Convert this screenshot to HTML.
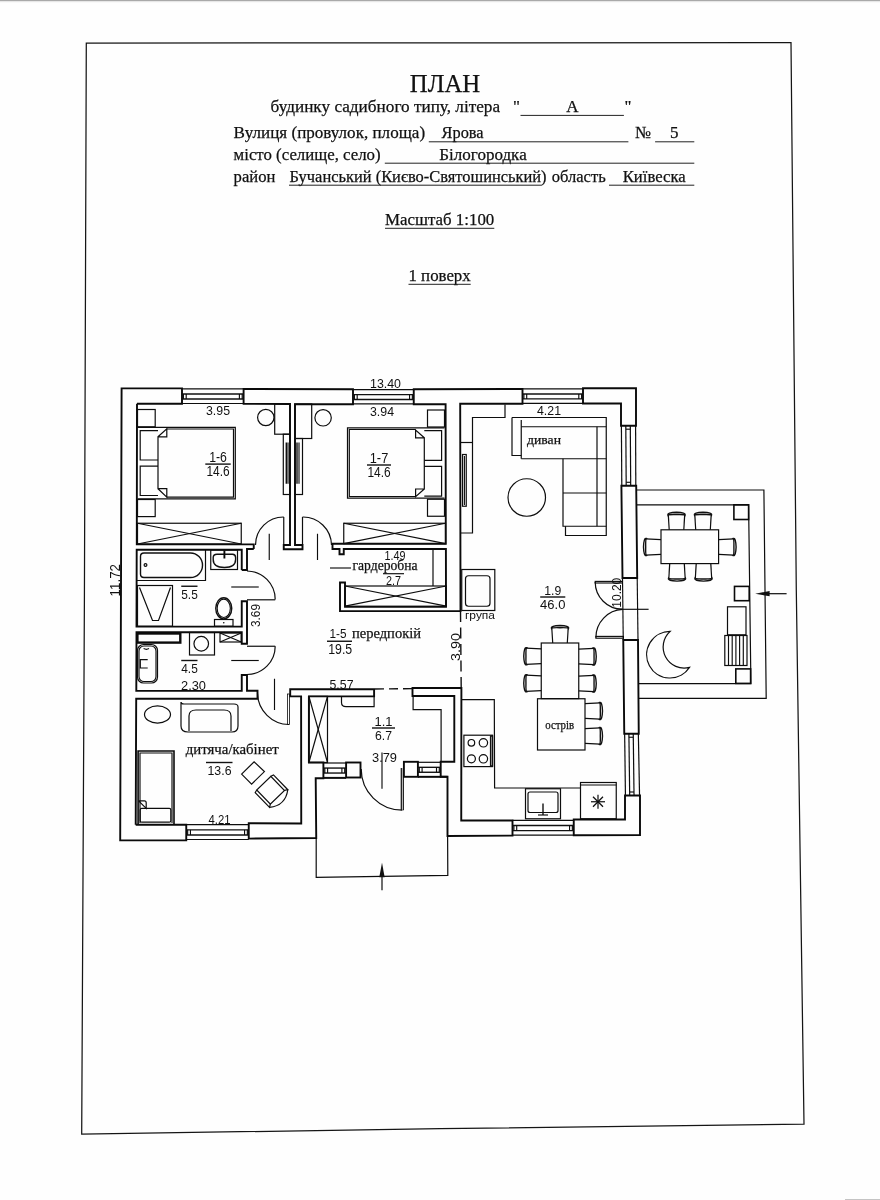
<!DOCTYPE html>
<html lang="uk">
<head>
<meta charset="utf-8">
<title>План будинку садибного типу</title>
<style>
html,body{margin:0;padding:0;background:#fefefe;}
body{width:880px;height:1200px;overflow:hidden;position:relative;font-family:"Liberation Serif",serif;}
svg{position:absolute;left:0;top:0;display:block;will-change:transform;filter:grayscale(1);}
svg path,svg rect,svg circle,svg ellipse{fill:none;stroke:#111;stroke-linejoin:miter;stroke-linecap:butt;}
.w{stroke-width:1.9;stroke:#0a0a0a;}
.m{stroke-width:1.4;}
.p{stroke-width:1.6;stroke:#0a0a0a;}
.t{stroke-width:1.2;stroke:#0d0d0d;}
.h{stroke-width:1.15;stroke:#0d0d0d;}
.u{stroke-width:1;stroke:#222;}
.b{stroke-width:1.9;stroke:#303030;}
.d{stroke-width:1.2;stroke:#0d0d0d;}
.f{stroke-width:1.25;stroke:#151515;}
svg .k{fill:#111;stroke:none;}
svg text{font-family:"Liberation Serif",serif;fill:#111;stroke:#111;stroke-width:0.25;}
svg text.s{font-family:"Liberation Sans",sans-serif;stroke:none;}
</style>
</head>
<body>
<svg width="880" height="1200" viewBox="0 0 880 1200">
<g id="frame">
<rect x="0" y="0" width="880" height="1.2" style="fill:#a9a9a9;stroke:none"/>
<rect x="0" y="1.2" width="880" height="1" style="fill:#e6e6e6;stroke:none"/>
<path class="f" d="M86.3 43.1 L791 42.6 L796.3 590 L804 1124.2 L440 1128.7 L81.7 1134.1 L84.4 600Z"/>
<rect x="845" y="1199" width="35" height="1" style="fill:#c4c4c4;stroke:none"/>
</g>
<g id="header">
<text x="445" y="91.8" font-size="24.7" text-anchor="middle" textLength="70.5" lengthAdjust="spacingAndGlyphs">ПЛАН</text>
<text x="270.6" y="112.1" font-size="17" textLength="229.5" lengthAdjust="spacingAndGlyphs">будинку садибного типу, літера</text>
<text x="513" y="112.1" font-size="17">"</text>
<text x="624.6" y="112.1" font-size="17">"</text>
<text x="566.3" y="112.1" font-size="17">А</text>
<path class="u" d="M520.5 115.4 L623.9 115.4"/>
<text x="233.6" y="138.4" font-size="17" textLength="191.5" lengthAdjust="spacingAndGlyphs">Вулиця (провулок, площа)</text>
<text x="441.6" y="138.4" font-size="17" textLength="42" lengthAdjust="spacingAndGlyphs">Ярова</text>
<path class="u" d="M428.8 141.8 L628.4 141.8"/>
<text x="635.2" y="138.4" font-size="17" textLength="16" lengthAdjust="spacingAndGlyphs">№</text>
<text x="670" y="138.4" font-size="17">5</text>
<path class="u" d="M655.1 141.8 L694.3 141.8"/>
<text x="233.6" y="160" font-size="17" textLength="147" lengthAdjust="spacingAndGlyphs">місто (селище, село)</text>
<text x="439.3" y="160" font-size="17" textLength="87.4" lengthAdjust="spacingAndGlyphs">Білогородка</text>
<path class="u" d="M384.8 163.2 L694.3 163.2"/>
<text x="233.6" y="181.8" font-size="17" textLength="41.8" lengthAdjust="spacingAndGlyphs">район</text>
<text x="289.6" y="181.8" font-size="17" textLength="257" lengthAdjust="spacingAndGlyphs">Бучанський (Києво-Святошинський)</text>
<path class="u" d="M289 185.2 L541.5 185.2"/>
<text x="551.7" y="181.8" font-size="17" textLength="54" lengthAdjust="spacingAndGlyphs">область</text>
<text x="622.7" y="181.8" font-size="17" textLength="63" lengthAdjust="spacingAndGlyphs">Київеска</text>
<path class="u" d="M609 185.2 L694.3 185.2"/>
<text x="385" y="225.2" font-size="17" textLength="109.3" lengthAdjust="spacingAndGlyphs">Масштаб 1:100</text>
<path class="u" d="M385 228.3 L494.3 228.3"/>
<text x="408.5" y="281.1" font-size="17" textLength="62.2" lengthAdjust="spacingAndGlyphs">1 поверх</text>
<path class="u" d="M408.5 284.3 L470.7 284.3"/>
</g>
<g id="walls">
<path class="w" d="M137 403.8 L182 403.8 L182 388.4 L121.6 388.4 L120.2 840.4 L186.25 840.3 L186.25 824.6 L135.7 824.8"/>
<path class="w" d="M253.75 549 L253.75 544.4 L136.8 544.4 L137 403.8"/>
<path class="w" d="M241.75 570 L241.75 549.7 L136.7 549.7 L136.5 626.6 L241.75 626.6 L241.75 601.25 L247 601.25 L247 643.75 L241.75 643.75 L241.75 632.2 L136.5 632.2 L136.3 690.9 L241.75 690.9 L241.75 675 L247 675 L247 690.7 L257.5 690.7 L257.5 698.7 L136.2 698.8 L135.7 824.8"/>
<path class="w" d="M253.75 549 L247 549 L247 570 L241.75 570"/>
<path class="w" d="M243.6 388.9 L353 389.3 L353 404.2 L295 404.2 L295 545 L302.5 545 L302.5 549.25 L283.75 549.25 L283.75 545 L290 545 L290 404 L243.6 403.8Z"/>
<path class="w" d="M413.75 389.3 L522.5 388.9 L522.5 403.8 L460.2 403.8 L460.5 611.1 L340 611.1 L340 582.5 L345 582.5 L345 606.9 L446 606.9 L445.9 549 L343.75 549 L343.75 554.3 L339.5 554.3 L339.5 549 L332.5 549 L332.5 543.8 L445.8 543.8 L445.6 404.2 L413.75 404.2Z"/>
<path class="w" d="M583 388.3 L636 388.3 L636 425.7 L621 425.7 L621 403.5 L583 403.5Z"/>
<path class="w" d="M621.4 485.8 L636.2 485.8 L637.2 578 L622.5 578Z"/>
<path class="w" d="M623.25 640 L638 640 L638.75 733.75 L624.25 733.75Z"/>
<path class="w" d="M625 795.5 L640 795.5 L640 835 L573.75 835.3 L573.75 819.5 L625 819.5Z"/>
<path class="w" d="M412.5 688 L461.4 688 L461.25 820.5 L512.5 820.5 L512.5 835.6 L447.5 836 L447.5 776.8 L440.7 776.8 L440.7 761.8 L454.3 761.8 L454.3 696 L412.5 696Z"/>
<path class="w" d="M290.2 689.3 L374.1 689.3 L374.1 696.4 L308.9 696.4 L308.9 762.5 L323.4 762.5 L323.4 778.2 L315.7 778.2 L316.25 838 L248.75 838.6 L248.75 823.2 L301.25 823.5 L301.1 696.4 L290.2 696.4Z"/>
<rect class="w" x="346.1" y="762.5" width="14.4" height="15"/>
<rect class="w" x="403.9" y="761.8" width="14" height="15"/>
<path class="t" d="M182 388.9 L243.6 388.9"/>
<path class="t" d="M182 403.5 L243.6 403.5"/>
<path class="m" d="M182 394 L243.6 394"/>
<path class="m" d="M182 399.01 L243.6 399.01"/>
<path class="h" d="M183.4 394 L183.4 399.01"/>
<path class="h" d="M186.2 394 L186.2 399.01"/>
<path class="h" d="M242.2 394 L242.2 399.01"/>
<path class="h" d="M239.4 394 L239.4 399.01"/>
<path class="t" d="M353 389.6 L413.75 389.6"/>
<path class="t" d="M353 403.9 L413.75 403.9"/>
<path class="m" d="M353 394.59 L413.75 394.59"/>
<path class="m" d="M353 399.51 L413.75 399.51"/>
<path class="h" d="M354.4 394.59 L354.4 399.51"/>
<path class="h" d="M357.2 394.59 L357.2 399.51"/>
<path class="h" d="M412.35 394.59 L412.35 399.51"/>
<path class="h" d="M409.55 394.59 L409.55 399.51"/>
<path class="t" d="M522.5 388.9 L583 388.9"/>
<path class="t" d="M522.5 403.3 L583 403.3"/>
<path class="m" d="M522.5 393.93 L583 393.93"/>
<path class="m" d="M522.5 398.88 L583 398.88"/>
<path class="h" d="M523.9 393.93 L523.9 398.88"/>
<path class="h" d="M526.7 393.93 L526.7 398.88"/>
<path class="h" d="M581.6 393.93 L581.6 398.88"/>
<path class="h" d="M578.8 393.93 L578.8 398.88"/>
<path class="t" d="M186.25 824.7 L248.75 824.7"/>
<path class="t" d="M186.25 839.5 L248.75 839.5"/>
<path class="m" d="M186.25 829.87 L248.75 829.87"/>
<path class="m" d="M186.25 834.95 L248.75 834.95"/>
<path class="h" d="M187.65 829.87 L187.65 834.95"/>
<path class="h" d="M190.45 829.87 L190.45 834.95"/>
<path class="h" d="M247.35 829.87 L247.35 834.95"/>
<path class="h" d="M244.55 829.87 L244.55 834.95"/>
<path class="t" d="M512.5 820.3 L573.75 820.3"/>
<path class="t" d="M512.5 835.2 L573.75 835.2"/>
<path class="m" d="M512.5 825.5 L573.75 825.5"/>
<path class="m" d="M512.5 830.62 L573.75 830.62"/>
<path class="h" d="M513.9 825.5 L513.9 830.62"/>
<path class="h" d="M516.7 825.5 L516.7 830.62"/>
<path class="h" d="M572.35 825.5 L572.35 830.62"/>
<path class="h" d="M569.55 825.5 L569.55 830.62"/>
<path class="t" d="M323.4 763 L346.1 763"/>
<path class="t" d="M323.4 777.5 L346.1 777.5"/>
<path class="m" d="M323.4 768.06 L346.1 768.06"/>
<path class="m" d="M323.4 773.04 L346.1 773.04"/>
<path class="h" d="M324.8 768.06 L324.8 773.04"/>
<path class="h" d="M327.6 768.06 L327.6 773.04"/>
<path class="h" d="M344.7 768.06 L344.7 773.04"/>
<path class="h" d="M341.9 768.06 L341.9 773.04"/>
<path class="t" d="M417.9 762.3 L440.7 762.3"/>
<path class="t" d="M417.9 776.7 L440.7 776.7"/>
<path class="m" d="M417.9 767.33 L440.7 767.33"/>
<path class="m" d="M417.9 772.27 L440.7 772.27"/>
<path class="h" d="M419.3 767.33 L419.3 772.27"/>
<path class="h" d="M422.1 767.33 L422.1 772.27"/>
<path class="h" d="M439.3 767.33 L439.3 772.27"/>
<path class="h" d="M436.5 767.33 L436.5 772.27"/>
<path class="t" d="M621.4 425.7 L621.8 485.8"/>
<path class="t" d="M635.6 425.7 L635.8 485.8"/>
<path class="t" d="M625.8 425.7 L626.2 485.8"/>
<path class="t" d="M630.3 425.7 L630.7 485.8"/>
<path class="h" d="M625.8 429.2 L630.3 429.2"/>
<path class="h" d="M626.2 482.3 L630.7 482.3"/>
<path class="t" d="M624.65 733.75 L625.45 795.5"/>
<path class="t" d="M638.35 733.75 L639.55 795.5"/>
<path class="t" d="M628.89 733.75 L629.69 795.5"/>
<path class="t" d="M633.24 733.75 L634.04 795.5"/>
<path class="h" d="M628.89 737.25 L633.24 737.25"/>
<path class="h" d="M629.69 792 L634.04 792"/>
<path class="t" d="M316.2 838 L316.2 877.4 L447.8 875.3 L447.6 836"/>
<path class="m" d="M323.4 778.2 L346.1 778.2"/>
<path class="w" d="M417.9 776.8 L447.5 776.8"/>
<path class="t" d="M636.8 490 L763.9 490 L766.2 698.4 L639 698.4"/>
<path class="t" d="M637 504.8 L748.6 504.8 L750.9 683.6 L639 683.6"/>
<rect class="p" x="733.9" y="504.8" width="14.7" height="14.7"/>
<rect class="p" x="734.5" y="586.4" width="14.7" height="14.3"/>
<rect class="p" x="735.8" y="668.9" width="14.8" height="14.5"/>
<path class="m" d="M460.5 611.1 L461.2 688" stroke-dasharray="11 5.5"/>
<path class="m" d="M375 689 L412.5 688.6" stroke-dasharray="9 5"/>
<path class="h" d="M622.5 578 L623.25 640"/>
<path class="h" d="M637.2 578 L638 640"/>
</g>
<g id="rooms_a">
<rect class="t" x="137.5" y="409.5" width="17.7" height="17.3"/>
<rect class="t" x="137.5" y="499.5" width="17.7" height="17.1"/>
<path class="d" d="M137.5 427.3 L235.3 427.3 L235.3 498.9 L137.5 498.9"/>
<path class="d" d="M166.8 429 L233.5 429 L233.5 497.2 L166.8 497.2"/>
<path class="t" d="M158 436.8 L166.8 428.9 L166.8 436.8 L158 436.8 L158 488.7 L166.8 488.7 L166.8 497.1 L158 488.7"/>
<path class="t" d="M158 430.7 L140.2 430.7 L140.2 460 L158 460"/>
<path class="t" d="M158 466.2 L140.2 466.2 L140.2 495.5 L158 495.5"/>
<rect class="t" x="137.5" y="523.25" width="103.75" height="20.75"/>
<path class="t" d="M137.5 523.25 L241.25 544"/>
<path class="t" d="M137.5 544 L241.25 523.25"/>
<circle class="t" cx="265.8" cy="417.5" r="8.2"/>
<rect class="t" x="274.7" y="404" width="15.3" height="30.2"/>
<rect class="t" x="283.3" y="434.2" width="6.7" height="60.3"/>
<path class="m" d="M286.3 442.5 L286.3 483.75"/>
<path class="h" d="M288 442.5 L288 483.75"/>
<path class="t" d="M283.75 517 A28 28 0 0 0 255.5 545"/>
<path class="t" d="M283.75 517 L283.75 545"/>
<path class="h" d="M269.25 533.75 L269.25 560"/>
<rect class="t" x="427.5" y="410" width="17" height="17"/>
<rect class="t" x="427.5" y="499.25" width="17" height="17"/>
<path class="d" d="M444.5 427.8 L347.5 427.8 L347.5 498.2 L444.5 498.2"/>
<path class="d" d="M415.6 429.5 L349.3 429.5 L349.3 496.5 L415.6 496.5"/>
<path class="t" d="M424.3 437.8 L415.6 430 L415.6 437.8 L424.3 437.8 L424.3 489 L415.6 489 L415.6 496.6 L424.3 489"/>
<path class="t" d="M424.3 430.7 L441.6 430.7 L441.6 460.3 L424.3 460.3"/>
<path class="t" d="M424.3 466.3 L441.6 466.3 L441.6 496.1 L424.3 496.1"/>
<rect class="t" x="343.75" y="523.25" width="101.75" height="20.35"/>
<path class="t" d="M343.75 523.25 L445.5 543.6"/>
<path class="t" d="M343.75 543.6 L445.5 523.25"/>
<circle class="t" cx="323.1" cy="417.8" r="8.2"/>
<rect class="t" x="294.8" y="404" width="16.9" height="34.5"/>
<rect class="t" x="294.8" y="438.5" width="7.7" height="56"/>
<path class="m" d="M297 442.5 L297 483.75"/>
<path class="h" d="M299 442.5 L299 483.75"/>
<path class="t" d="M302.5 517 A28.5 28.5 0 0 1 331.5 545"/>
<path class="t" d="M302.5 517 L302.5 545"/>
<path class="h" d="M317.5 533.75 L317.5 560"/>
<path class="t" d="M505 404.5 L505 417.5 L472.5 417.5 L472.5 533 L460.5 533"/>
<path class="t" d="M460.5 442.5 L472.5 442.5"/>
<rect class="t" x="462.5" y="454.5" width="3.75" height="51.75"/>
<path class="h" d="M464.4 456 L464.4 505"/>
<path class="t" d="M512 417.5 L606.25 417.5 L606.25 535.5 L565.5 535.5 L565.5 526.25"/>
<path class="t" d="M512 417.5 L512 455.5 L521.25 455.5"/>
<path class="t" d="M521.25 420 L521.25 458.75"/>
<path class="t" d="M521.25 426.75 L606.25 426.75"/>
<path class="t" d="M521.25 458.75 L606.25 458.75"/>
<path class="t" d="M597 426.75 L597 526.25"/>
<path class="t" d="M563 458.75 L563 526.25 L606.25 526.25"/>
<path class="t" d="M563 493 L606.25 493"/>
<circle class="t" cx="526.75" cy="497.5" r="18.75"/>
</g>
<g id="rooms_b">
<path class="t" d="M205.5 549.8 L205.5 580.5 L137 580.5"/>
<path class="m" d="M144 553 H190.5 A12 12.25 0 0 1 190.5 577.5 H144 Q140.5 577.5 140.5 574 V556.5 Q140.5 553 144 553 Z"/>
<circle class="t" cx="145.5" cy="565" r="1.4"/>
<rect class="t" x="210.75" y="550" width="26.75" height="19.5"/>
<path class="m" d="M217 554.3 H232.5 Q235.6 554.3 235.6 557.5 V559.5 Q235.6 567.5 224.4 567.5 Q213.2 567.5 213.2 559.5 V557.5 Q213.2 554.3 217 554.3 Z"/>
<path class="w" d="M224.4 550.5 L224.4 558.5"/>
<rect class="t" x="137.5" y="585.5" width="35" height="40.75"/>
<path class="t" d="M139.5 587.5 L152.5 620.5 L158.5 620.5 L170.5 587.5"/>
<ellipse class="m" cx="223.75" cy="608.3" rx="8" ry="10.6"/>
<ellipse class="h" cx="223.75" cy="608.3" rx="6.6" ry="9.2"/>
<rect class="t" x="214.5" y="619.5" width="18.5" height="6.75"/>
<circle class="k" cx="223.75" cy="622.8" r="0.8"/>
<path class="t" d="M247 571 A28.5 28.5 0 0 1 275.2 599.5"/>
<path class="t" d="M247 599.8 L275.2 599.8"/>
<path class="h" d="M231.25 587 L258.75 587"/>
<rect class="w" x="137.4" y="633.5" width="42.9" height="9.1" style="stroke-width:2.4"/>
<rect class="t" x="137.5" y="644.5" width="20" height="38.5" rx="6"/>
<rect class="h" x="139" y="646" width="17" height="35.5" rx="5"/>
<path class="t" d="M147.7 659.6 L140.3 659.6 L140.3 668 L147.7 668"/>
<path class="h" d="M143.6 648.6 Q146.5 650 149 648.6"/>
<rect class="t" x="189.5" y="632.5" width="25" height="22.5"/>
<circle class="t" cx="201.25" cy="643.75" r="7.3"/>
<rect class="t" x="220" y="633" width="21.25" height="9"/>
<path class="t" d="M220 633 L241.25 642"/>
<path class="t" d="M220 642 L241.25 633"/>
<path class="t" d="M275.2 646.25 A28.3 28.3 0 0 1 247 674.5"/>
<path class="t" d="M247 646.25 L275.2 646.25"/>
<path class="h" d="M231.25 660.5 L258.75 660.5"/>
<path class="t" d="M433 549.3 L433 586"/>
<rect class="t" x="345" y="586" width="101.25" height="20.2"/>
<path class="t" d="M345 586 L446.25 606.2"/>
<path class="t" d="M345 606.2 L446.25 586"/>
<path class="h" d="M330 568 L351 568"/>
<rect class="t" x="461.75" y="569.5" width="33.05" height="41"/>
<rect class="t" x="465.5" y="575.75" width="24.5" height="30.5" rx="3"/>
</g>
<g id="rooms_c">
<ellipse class="t" cx="157.5" cy="714.5" rx="13" ry="8.6"/>
<path class="t" d="M181 702 V726 Q181 732 188 732 H232 Q238 732 238 726 V707 Q238 704 234 704 H184 Q181 704 181 702 Z"/>
<path class="t" d="M189 731 V716 Q189 710 196 710 H224 Q231 710 231 716 V731"/>
<path class="w" d="M138.1 824.8 L138.1 751 L174 751 L174 824.8" style="stroke-width:1.6"/>
<path class="h" d="M140 823 L140 753 L172 753 L172 823"/>
<rect class="t" x="140.2" y="808.4" width="30.6" height="13.8" rx="1.5"/>
<path class="t" d="M138.6 800.8 H144.4 Q146.2 800.8 146.2 802.8 V808.4 L138.6 800.8"/>
<path class="t" d="M241.6 774.1 L254.1 761.8 L264.4 771.6 L251.6 784.1Z"/>
<g transform="translate(270.6 790.2) rotate(46)">
<path class="t" d="M-9.8 -9.8 H9.8 V9.8 H-9.8 Z"/>
<path class="t" d="M-9.8 -9.8 L-9 -12.7 H11.6 L9.8 -9.8"/>
<path class="t" d="M-9.8 9.8 L-9 12.7 H11.6 L9.8 9.8"/>
<path class="t" d="M11.6 -12.7 Q21.5 0 11.6 12.7"/>
</g>
<path class="t" d="M257.5 693.5 A32 32 0 0 0 289 724.5"/>
<rect class="h" x="287.5" y="694" width="2" height="30.6" style="stroke-width:0.8"/>
<path class="h" d="M274.5 678.75 L274.5 710"/>
<rect class="t" x="308.9" y="696.4" width="18.6" height="66.1"/>
<path class="t" d="M308.9 696.4 L327.5 762.5"/>
<path class="t" d="M308.9 762.5 L327.5 696.4"/>
<path class="t" d="M341.5 696.5 V702.5 Q341.5 706.6 346 706.6 H374.1 V696.5"/>
<path class="t" d="M413.1 696.4 L413.1 709.7 L441.1 709.7 L441.1 761.8"/>
<path class="t" d="M361.2 769 A41.2 41.2 0 0 0 402.4 810.2"/>
<path class="t" d="M401.3 768 L401.3 810.2"/>
<path class="t" d="M403.3 768 L403.3 810.2"/>
<path class="h" d="M382 752.5 L382 788.75"/>
<path class="t" d="M382 870 L382 890.3"/>
<path class="k" d="M382 862.8 L384.7 877.2 L379.3 877.2 Z"/>
<path class="t" d="M462 699.6 L494.3 699.6 L494.6 788 L580.5 788"/>
<rect class="t" x="463.9" y="735.2" width="28.6" height="31.4"/>
<rect class="m" x="490.6" y="736" width="1.9" height="30"/>
<circle class="t" cx="471.4" cy="742.8" r="3.3"/>
<circle class="t" cx="483.4" cy="742.8" r="4.2"/>
<circle class="t" cx="471.4" cy="758.8" r="4"/>
<circle class="t" cx="483.4" cy="758.8" r="4.2"/>
<rect class="t" x="525.5" y="788.75" width="35" height="30"/>
<rect class="t" x="528" y="792" width="30" height="20.5" rx="2"/>
<path class="m" d="M543 803.5 L543 815"/>
<path class="h" d="M538 815 L548 815"/>
<rect class="t" x="580.5" y="782.5" width="35.75" height="36.25"/>
<path class="h" d="M580.5 785 L616.25 785"/>
<path class="t" d="M591 801.75 L605 801.75"/>
<path class="t" d="M598 794.75 L598 808.75"/>
<path class="t" d="M593 796.75 L603 806.75"/>
<path class="t" d="M593 806.75 L603 796.75"/>
<rect class="t" x="541.25" y="643" width="37.5" height="55.6"/>
<rect class="t" x="537.5" y="698.75" width="47.5" height="51.25"/>
<g transform="translate(560 643) rotate(0)">
<path class="t" d="M-7.3 0 L-8.2 -15.2"/>
<path class="t" d="M7.3 0 L8.2 -15.2"/>
<path class="m" d="M-8.5 -14.6 Q-9.5 -17.2 0 -17.5 Q9.5 -17.2 8.5 -14.6 Q7.9 -15.5 0 -15.3 Q-7.9 -15.5 -8.5 -14.6 Z"/>
</g>
<g transform="translate(541.25 656.25) rotate(-90)">
<path class="t" d="M-7.3 0 L-8.2 -15.2"/>
<path class="t" d="M7.3 0 L8.2 -15.2"/>
<path class="m" d="M-8.5 -14.6 Q-9.5 -17.2 0 -17.5 Q9.5 -17.2 8.5 -14.6 Q7.9 -15.5 0 -15.3 Q-7.9 -15.5 -8.5 -14.6 Z"/>
</g>
<g transform="translate(541.25 683.25) rotate(-90)">
<path class="t" d="M-7.3 0 L-8.2 -15.2"/>
<path class="t" d="M7.3 0 L8.2 -15.2"/>
<path class="m" d="M-8.5 -14.6 Q-9.5 -17.2 0 -17.5 Q9.5 -17.2 8.5 -14.6 Q7.9 -15.5 0 -15.3 Q-7.9 -15.5 -8.5 -14.6 Z"/>
</g>
<g transform="translate(578.75 656.5) rotate(90)">
<path class="t" d="M-7.3 0 L-8.2 -15.2"/>
<path class="t" d="M7.3 0 L8.2 -15.2"/>
<path class="m" d="M-8.5 -14.6 Q-9.5 -17.2 0 -17.5 Q9.5 -17.2 8.5 -14.6 Q7.9 -15.5 0 -15.3 Q-7.9 -15.5 -8.5 -14.6 Z"/>
</g>
<g transform="translate(578.75 683.5) rotate(90)">
<path class="t" d="M-7.3 0 L-8.2 -15.2"/>
<path class="t" d="M7.3 0 L8.2 -15.2"/>
<path class="m" d="M-8.5 -14.6 Q-9.5 -17.2 0 -17.5 Q9.5 -17.2 8.5 -14.6 Q7.9 -15.5 0 -15.3 Q-7.9 -15.5 -8.5 -14.6 Z"/>
</g>
<g transform="translate(585 711) rotate(90)">
<path class="t" d="M-7.3 0 L-8.2 -15.2"/>
<path class="t" d="M7.3 0 L8.2 -15.2"/>
<path class="m" d="M-8.5 -14.6 Q-9.5 -17.2 0 -17.5 Q9.5 -17.2 8.5 -14.6 Q7.9 -15.5 0 -15.3 Q-7.9 -15.5 -8.5 -14.6 Z"/>
</g>
<g transform="translate(585 736) rotate(90)">
<path class="t" d="M-7.3 0 L-8.2 -15.2"/>
<path class="t" d="M7.3 0 L8.2 -15.2"/>
<path class="m" d="M-8.5 -14.6 Q-9.5 -17.2 0 -17.5 Q9.5 -17.2 8.5 -14.6 Q7.9 -15.5 0 -15.3 Q-7.9 -15.5 -8.5 -14.6 Z"/>
</g>
<rect class="t" x="661" y="529.8" width="57.6" height="33.8"/>
<g transform="translate(676.5 529.8) rotate(0)">
<path class="t" d="M-7.3 0 L-8.2 -15.2"/>
<path class="t" d="M7.3 0 L8.2 -15.2"/>
<path class="m" d="M-8.5 -14.6 Q-9.5 -17.2 0 -17.5 Q9.5 -17.2 8.5 -14.6 Q7.9 -15.5 0 -15.3 Q-7.9 -15.5 -8.5 -14.6 Z"/>
</g>
<g transform="translate(703 529.8) rotate(0)">
<path class="t" d="M-7.3 0 L-8.2 -15.2"/>
<path class="t" d="M7.3 0 L8.2 -15.2"/>
<path class="m" d="M-8.5 -14.6 Q-9.5 -17.2 0 -17.5 Q9.5 -17.2 8.5 -14.6 Q7.9 -15.5 0 -15.3 Q-7.9 -15.5 -8.5 -14.6 Z"/>
</g>
<g transform="translate(677 563.6) rotate(180)">
<path class="t" d="M-7.3 0 L-8.2 -15.2"/>
<path class="t" d="M7.3 0 L8.2 -15.2"/>
<path class="m" d="M-8.5 -14.6 Q-9.5 -17.2 0 -17.5 Q9.5 -17.2 8.5 -14.6 Q7.9 -15.5 0 -15.3 Q-7.9 -15.5 -8.5 -14.6 Z"/>
</g>
<g transform="translate(703.5 563.6) rotate(180)">
<path class="t" d="M-7.3 0 L-8.2 -15.2"/>
<path class="t" d="M7.3 0 L8.2 -15.2"/>
<path class="m" d="M-8.5 -14.6 Q-9.5 -17.2 0 -17.5 Q9.5 -17.2 8.5 -14.6 Q7.9 -15.5 0 -15.3 Q-7.9 -15.5 -8.5 -14.6 Z"/>
</g>
<g transform="translate(661 547) rotate(-90)">
<path class="t" d="M-7.3 0 L-8.2 -15.2"/>
<path class="t" d="M7.3 0 L8.2 -15.2"/>
<path class="m" d="M-8.5 -14.6 Q-9.5 -17.2 0 -17.5 Q9.5 -17.2 8.5 -14.6 Q7.9 -15.5 0 -15.3 Q-7.9 -15.5 -8.5 -14.6 Z"/>
</g>
<g transform="translate(718.6 547) rotate(90)">
<path class="t" d="M-7.3 0 L-8.2 -15.2"/>
<path class="t" d="M7.3 0 L8.2 -15.2"/>
<path class="m" d="M-8.5 -14.6 Q-9.5 -17.2 0 -17.5 Q9.5 -17.2 8.5 -14.6 Q7.9 -15.5 0 -15.3 Q-7.9 -15.5 -8.5 -14.6 Z"/>
</g>
<path class="t" d="M670.2 631.4 A23.3 23.3 0 1 0 689.5 667.4 A21 21 0 0 1 670.2 631.4 Z"/>
<rect class="t" x="727.5" y="606.8" width="18.5" height="28"/>
<rect class="t" x="724.8" y="635.5" width="22.2" height="30"/>
<path class="h" d="M728.5 635.5 L728.5 665.5"/>
<path class="h" d="M732.2 635.5 L732.2 665.5"/>
<path class="h" d="M735.9 635.5 L735.9 665.5"/>
<path class="h" d="M739.6 635.5 L739.6 665.5"/>
<path class="h" d="M743.3 635.5 L743.3 665.5"/>
<path class="t" d="M764 593.7 L786.6 593.7"/>
<path class="k" d="M755.2 593.7 L769.6 591.1 L769.6 596.3 Z"/>
<path class="t" d="M595.2 582 A27.2 27.2 0 0 0 622.4 609.2"/>
<path class="t" d="M595.9 637.4 A28 28 0 0 1 622.6 609.4"/>
<rect class="h" x="595.2" y="581.4" width="27.2" height="1.6"/>
<rect class="h" x="595.9" y="636.4" width="27.5" height="1.8"/>
<path class="h" d="M622.4 609.3 L648.6 609.3"/>
</g>
<g id="text">
<text x="385.5" y="388" font-size="13.5" text-anchor="middle" textLength="31" lengthAdjust="spacingAndGlyphs" class="s">13.40</text>
<text x="218" y="415" font-size="13.5" text-anchor="middle" textLength="24" lengthAdjust="spacingAndGlyphs" class="s">3.95</text>
<text x="382" y="416" font-size="13.5" text-anchor="middle" textLength="24" lengthAdjust="spacingAndGlyphs" class="s">3.94</text>
<text x="549" y="415" font-size="13.5" text-anchor="middle" textLength="24" lengthAdjust="spacingAndGlyphs" class="s">4.21</text>
<text x="120.2" y="580.2" font-size="14" text-anchor="middle" textLength="32.4" lengthAdjust="spacingAndGlyphs" class="s" transform="rotate(-90 120.2 580.2)">11.72</text>
<text x="218" y="461.7" font-size="14" text-anchor="middle" textLength="17.7" lengthAdjust="spacingAndGlyphs" class="s">1-6</text>
<path class="m" d="M205.3 464.1 L230.7 464.1"/>
<text x="218" y="475.9" font-size="14" text-anchor="middle" textLength="23.2" lengthAdjust="spacingAndGlyphs" class="s">14.6</text>
<text x="379" y="462.6" font-size="14" text-anchor="middle" textLength="18.5" lengthAdjust="spacingAndGlyphs" class="s">1-7</text>
<path class="m" d="M367 465 L391 465"/>
<text x="379" y="476.8" font-size="14" text-anchor="middle" textLength="23.2" lengthAdjust="spacingAndGlyphs" class="s">14.6</text>
<path class="m" d="M181.25 586.25 L197.5 586.25"/>
<text x="189.5" y="598.5" font-size="13" text-anchor="middle" textLength="16.5" lengthAdjust="spacingAndGlyphs" class="s">5.5</text>
<path class="m" d="M181.25 660.5 L197.5 660.5"/>
<text x="189.5" y="672.5" font-size="13" text-anchor="middle" textLength="16.5" lengthAdjust="spacingAndGlyphs" class="s">4.5</text>
<text x="193.5" y="690" font-size="13" text-anchor="middle" textLength="25" lengthAdjust="spacingAndGlyphs" class="s">2.30</text>
<text x="259.5" y="615.5" font-size="12.5" text-anchor="middle" textLength="23" lengthAdjust="spacingAndGlyphs" class="s" transform="rotate(-90 259.5 615.5)">3.69</text>
<text x="395" y="560" font-size="13.5" text-anchor="middle" textLength="21" lengthAdjust="spacingAndGlyphs" class="s">1.49</text>
<text x="385" y="570" font-size="14" text-anchor="middle" textLength="65" lengthAdjust="spacingAndGlyphs">гардеробна</text>
<path class="h" d="M383 573.7 L404 573.7"/>
<text x="393.5" y="585" font-size="13" text-anchor="middle" textLength="15" lengthAdjust="spacingAndGlyphs" class="s">2.7</text>
<text x="352" y="637.5" font-size="15" textLength="69" lengthAdjust="spacingAndGlyphs">передпокій</text>
<text x="338" y="637.5" font-size="12.5" text-anchor="middle" textLength="17" lengthAdjust="spacingAndGlyphs" class="s">1-5</text>
<path class="m" d="M327 641.25 L352 641.25"/>
<text x="340.2" y="653.5" font-size="14" text-anchor="middle" textLength="24" lengthAdjust="spacingAndGlyphs" class="s">19.5</text>
<text x="459.5" y="647" font-size="12.5" text-anchor="middle" textLength="28" lengthAdjust="spacingAndGlyphs" class="s" transform="rotate(-90 459.5 647)">3.90</text>
<text x="341.5" y="688.6" font-size="13.5" text-anchor="middle" textLength="24" lengthAdjust="spacingAndGlyphs" class="s">5.57</text>
<text x="465" y="619.2" font-size="10.5" textLength="30" lengthAdjust="spacingAndGlyphs" class="s">група</text>
<text x="552.75" y="594.6" font-size="13.2" text-anchor="middle" textLength="17" lengthAdjust="spacingAndGlyphs" class="s">1.9</text>
<path class="m" d="M540.2 597 L565.3 597"/>
<text x="552.75" y="608.8" font-size="13.2" text-anchor="middle" textLength="25.3" lengthAdjust="spacingAndGlyphs" class="s">46.0</text>
<text x="527" y="444.2" font-size="13.5" textLength="34" lengthAdjust="spacingAndGlyphs">диван</text>
<text x="545.2" y="729.3" font-size="12.5" textLength="29" lengthAdjust="spacingAndGlyphs">острів</text>
<text x="232.25" y="753.75" font-size="15" text-anchor="middle" textLength="93" lengthAdjust="spacingAndGlyphs">дитяча/кабінет</text>
<path class="m" d="M206 762.5 L232.5 762.5"/>
<text x="219.5" y="775" font-size="13" text-anchor="middle" textLength="24" lengthAdjust="spacingAndGlyphs" class="s">13.6</text>
<text x="219.5" y="823.8" font-size="13.5" text-anchor="middle" textLength="22" lengthAdjust="spacingAndGlyphs" class="s">4.21</text>
<text x="383.5" y="725.6" font-size="13.5" text-anchor="middle" textLength="18" lengthAdjust="spacingAndGlyphs" class="s">1.1</text>
<path class="m" d="M372 728 L395 728"/>
<text x="383.5" y="739.8" font-size="13.5" text-anchor="middle" textLength="17" lengthAdjust="spacingAndGlyphs" class="s">6.7</text>
<text x="384.5" y="761.8" font-size="13.5" text-anchor="middle" textLength="25" lengthAdjust="spacingAndGlyphs" class="s">3.79</text>
<text x="621.5" y="592.7" font-size="13" text-anchor="middle" textLength="30" lengthAdjust="spacingAndGlyphs" class="s" transform="rotate(-90 621.5 592.7)">10.20</text>
</g>
</svg>
</body>
</html>
